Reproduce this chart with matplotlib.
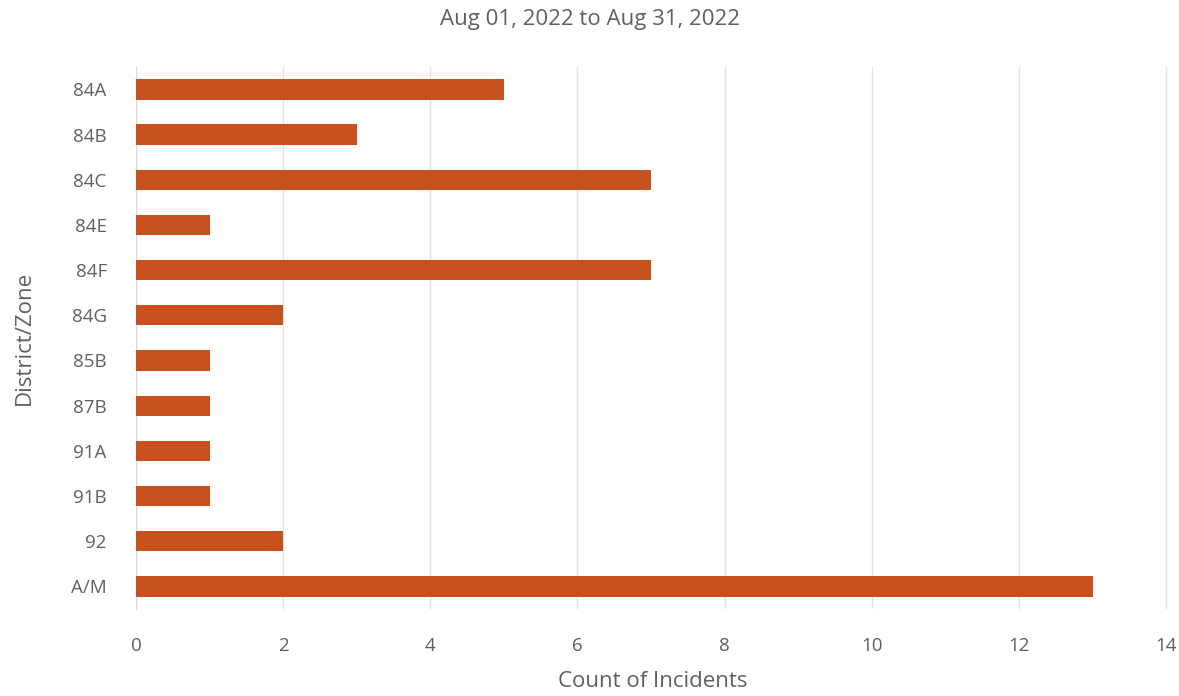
import matplotlib
matplotlib.use("Agg")
import matplotlib.pyplot as plt

plt.rcParams['font.family'] = ['Open Sans', 'DejaVu Sans']

zones = ['84A', '84B', '84C', '84E', '84F', '84G', '85B', '87B', '91A', '91B', '92', 'A/M']
counts = [5, 3, 7, 1, 7, 2, 1, 1, 1, 1, 2, 13]
xticks = [0, 2, 4, 6, 8, 10, 12, 14]

fig = plt.figure(figsize=(11.79, 6.96), dpi=100)
ax = fig.add_axes([0.1153, 0.125, 0.877, 0.779])

ypos = list(range(len(zones)))
ax.barh(ypos, counts, height=0.45, color='#C6511F', zorder=3)
ax.set_ylim(len(zones) - 0.5, -0.5)
ax.set_xlim(0, 14.05)
ax.set_yticks(ypos)
ax.set_yticklabels(zones)
ax.set_xticks(xticks)

ax.grid(axis='x', color='#E3E3E3', linewidth=1, zorder=0)
for s in ['top', 'right', 'bottom']:
    ax.spines[s].set_visible(False)
ax.spines['left'].set_color('#D9D9D9')
ax.tick_params(axis='both', length=0, labelsize=13.5, colors='#606060')
ax.tick_params(axis='x', pad=20)
ax.tick_params(axis='y', pad=21)

text_kw = dict(fontsize=16, color='#606060')
ax.set_xlabel('Count of Incidents', labelpad=12, **text_kw)
ax.set_ylabel('District/Zone', labelpad=26, **text_kw)
fig.text(0.5, 0.972, 'Aug 01, 2022 to Aug 31, 2022', ha='center', va='center', **text_kw)

fig.savefig('out.png', dpi=100)
